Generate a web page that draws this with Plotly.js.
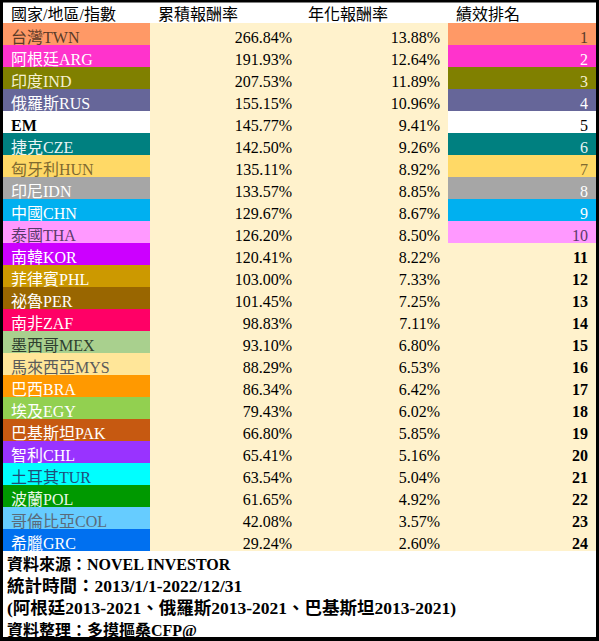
<!DOCTYPE html>
<html>
<head>
<meta charset="utf-8">
<script src="https://cdn.plot.ly/plotly-3.0.1.min.js"></script>
<style>html,body{margin:0;padding:0;background:#fff;}#chart{width:599px;height:641px;}</style>
</head>
<body>
<div id="chart"></div>
<script>
const headers = ['國家/地區/指數', '累積報酬率', '年化報酬率', '績效排名'];
const names = ['台灣TWN','阿根廷ARG','印度IND','俄羅斯RUS','EM','捷克CZE','匈牙利HUN','印尼IDN','中國CHN','泰國THA','南韓KOR','菲律賓PHL','祕魯PER','南非ZAF','墨西哥MEX','馬來西亞MYS','巴西BRA','埃及EGY','巴基斯坦PAK','智利CHL','土耳其TUR','波蘭POL','哥倫比亞COL','希臘GRC'];
const cumulative = [266.84,191.93,207.53,155.15,145.77,142.50,135.11,133.57,129.67,126.20,120.41,103.00,101.45,98.83,93.10,88.29,86.34,79.43,66.80,65.41,63.54,61.65,42.08,29.24];
const annualized = [13.88,12.64,11.89,10.96,9.41,9.26,8.92,8.85,8.67,8.50,8.22,7.33,7.25,7.11,6.80,6.53,6.42,6.02,5.85,5.16,5.04,4.92,3.57,2.60];
const ranks = [1,2,3,4,5,6,7,8,9,10,11,12,13,14,15,16,17,18,19,20,21,22,23,24];
const rowColors = ['#FF9966','#FF33CC','#808000','#666699','#FFFFFF','#008080','#FFD966','#A6A6A6','#00B0F0','#FF99FF','#CC00FF','#CC9900','#996600','#FF0066','#A9D08E','#FFE699','#FF9900','#92D050','#C65911','#9933FF','#00FFFF','#009900','#66CCFF','#0070F0'];
const textColors = ['#5A3A28','#FFFFFF','#F4F0D0','#FFFFFF','#000000','#E8F4F4','#7F6A30','#FFFFFF','#FFFFFF','#5A3A6A','#FFFFFF','#FFFFFF','#FFFFFF','#FFFFFF','#2F3F2F','#5A5A5A','#FFFFFF','#FFFFFF','#FFFFFF','#FFFFFF','#1F4E79','#E8F8E8','#5A6A7A','#FFFFFF'];
const footer = ['資料來源：NOVEL INVESTOR','統計時間：2013/1/1-2022/12/31','(阿根廷2013-2021、俄羅斯2013-2021、巴基斯坦2013-2021)','資料整理：多摸摳桑CFP@'];

const cream = '#FFF2CC';
const W = 599, H = 641;
const rankText = ranks.map(r => String(r));
const rankFill = ranks.map((r, i) => r <= 10 ? rowColors[i] : cream);
const rankFont = ranks.map((r, i) => r <= 10 ? textColors[i] : '#000000');
const rankWeight = ranks.map(r => r > 10 ? 'bold' : 'normal');
const nameWeight = names.map(n => n === 'EM' ? 'bold' : 'normal');
const normalCol = names.map(() => 'normal');
const creamCol = names.map(() => cream);
const blackCol = names.map(() => '#000000');

const fam = '"Liberation Serif", "Noto Sans CJK TC", serif';

const trace = {
  type: 'table',
  domain: {x: [3 / W, 596 / W], y: [(H - 556) / H, 1]},
  columnwidth: [147, 150, 148, 148],
  header: {
    values: headers,
    align: 'left',
    height: 23,
    fill: {color: '#FFFFFF'},
    line: {width: 0, color: '#FFFFFF'},
    font: {family: fam, size: 16, color: '#000000'}
  },
  cells: {
    values: [names, cumulative, annualized, rankText],
    format: ['', '.2f', '.2f', ''],
    suffix: ['', '%', '%', ''],
    align: ['left', 'right', 'right', 'right'],
    height: 22,
    fill: {color: [rowColors, creamCol, creamCol, rankFill]},
    line: {width: 0, color: [rowColors, creamCol, creamCol, rankFill]},
    font: {family: fam, size: 16, color: [textColors, blackCol, blackCol, rankFont],
           weight: [nameWeight, normalCol, normalCol, rankWeight]}
  }
};

const footerSizes = [16, 17.5, 17.5, 16];
const annotations = footer.map((t, i) => ({
  text: '<b>' + t + '</b>',
  xref: 'paper', yref: 'paper',
  x: 5 / W, y: (H - (564 + 22 * i)) / H,
  xanchor: 'left', yanchor: 'middle',
  showarrow: false,
  font: {family: fam, size: footerSizes[i], color: '#000000'}
}));

const rectPx = (x0, y0, x1, y1) => ({
  type: 'rect', xref: 'paper', yref: 'paper',
  x0: x0 / W, x1: x1 / W, y0: (H - y1) / H, y1: (H - y0) / H,
  fillcolor: '#000000', line: {width: 0}, layer: 'above'
});

const layout = {
  width: W, height: H,
  margin: {l: 0, r: 0, t: 0, b: 0},
  paper_bgcolor: '#FFFFFF',
  showlegend: false,
  annotations: annotations,
  shapes: [rectPx(0, 0, 3, H), rectPx(596, 0, W, H), rectPx(0, 0, W, 2.5), rectPx(0, 637, W, H)]
};

Plotly.newPlot('chart', [trace], layout, {displayModeBar: false, staticPlot: true});
</script>
</body>
</html>
